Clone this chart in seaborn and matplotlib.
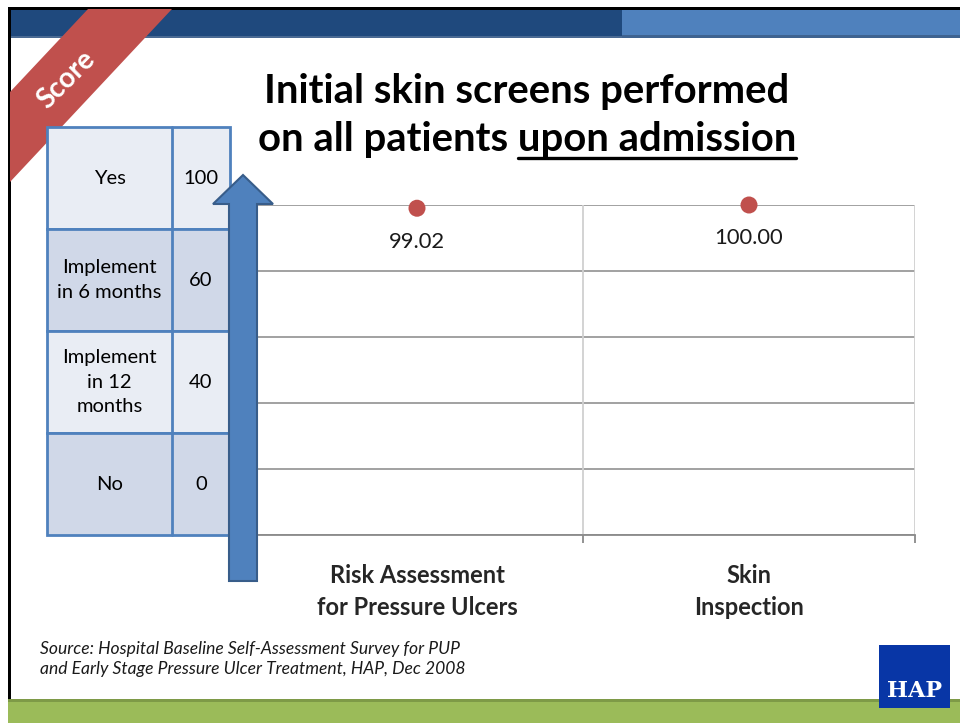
import matplotlib
matplotlib.use("Agg")
import matplotlib.pyplot as plt
import seaborn as sns
from matplotlib.patches import Rectangle, Polygon
from matplotlib.lines import Line2D

# chart values
categories = ["Risk Assessment\nfor Pressure Ulcers", "Skin\nInspection"]
scores = [99.02, 100.00]

# score legend table
score_labels = ["Yes", "Implement\nin 6 months", "Implement\nin 12\nmonths", "No"]
score_values = [100, 60, 40, 0]

title_1 = "Initial skin screens performed"
title_2 = "on all patients upon admission"
title_underlined = "upon admission"
source = ("Source: Hospital Baseline Self-Assessment Survey for PUP\n"
          "and Early Stage Pressure Ulcer Treatment, HAP, Dec 2008")

W, H = 960, 723

sns.set_theme(style="white")
plt.rcParams["font.family"] = ["Lato", "DejaVu Sans"]

fig = plt.figure(figsize=(W / 100, H / 100), dpi=100)
fig.patch.set_facecolor("white")

# slide decoration, drawn in pixel coordinates
bg = fig.add_axes([0, 0, 1, 1], zorder=0)
bg.set_xlim(0, W)
bg.set_ylim(H, 0)
bg.axis("off")

bg.add_patch(Rectangle((10, 9), 612, 27, color="#1F497D", lw=0))
bg.add_patch(Rectangle((10, 36), 612, 2, color="#4A6A93", lw=0))
bg.add_patch(Rectangle((622, 9), W - 622, 27, color="#4F81BD", lw=0))
bg.add_patch(Rectangle((622, 35), W - 622, 3, color="#3F6390", lw=0))
bg.add_patch(Rectangle((8, 7), W - 8, 2.5, color="black", lw=0))
bg.add_patch(Rectangle((8, 7), 2.5, 692, color="black", lw=0))
bg.add_patch(Rectangle((8, 700), W - 8, H - 700, color="#9BBB59", lw=0))
bg.add_patch(Rectangle((8, 699), W - 8, 2.5, color="#7E9A47", lw=0))

# red "Score" ribbon
bg.add_patch(Polygon([(88, 9), (172, 9), (10, 182), (10, 92)],
                     closed=True, color="#C0504D", lw=0))
bg.text(66, 80, "Score", color="white", fontsize=20, fontweight="bold",
        rotation=45, ha="center", va="center")

# score table
tx0, tx1, tx2 = 47, 172, 230
ty0, row_h = 127, 102
row_colors = ["#E9EDF4", "#D0D8E8"]
for i, (lab, val) in enumerate(zip(score_labels, score_values)):
    y = ty0 + i * row_h
    bg.add_patch(Rectangle((tx0, y), tx2 - tx0, row_h,
                           facecolor=row_colors[i % 2], edgecolor="#4F81BD", lw=2))
    bg.plot([tx1, tx1], [y, y + row_h], color="#4F81BD", lw=2)
    bg.text((tx0 + tx1) / 2, y + row_h / 2, lab, ha="center", va="center",
            fontsize=14.5, color="black", linespacing=1.5)
    bg.text((tx1 + tx2) / 2, y + row_h / 2, str(val), ha="center", va="center",
            fontsize=14.5, color="black")

# source note
bg.text(40, 659, source, ha="left", va="center", fontsize=12.6,
        style="italic", color="#1a1a1a", linespacing=1.35)

# HAP logo
bg.add_patch(Rectangle((879, 645), 71, 63, color="#0836A6", lw=0, zorder=5))
bg.text(915, 691, "HAP", ha="center", va="center", color="white",
        fontsize=16, fontweight="bold", family="DejaVu Serif", zorder=6)

# the chart
ax = fig.add_axes([251 / W, (H - 535) / H, (915 - 251) / W, 330 / H], zorder=1)
ax.patch.set_alpha(0)
sns.scatterplot(x=categories, y=scores, ax=ax, color="#C0504D", s=150,
                edgecolor="none", zorder=4, clip_on=False)
ax.set_xlim(-0.5, 1.5)
ax.set_ylim(0, 100)
ax.set_yticks(range(0, 101, 20))
ax.set_yticklabels([])
ax.tick_params(axis="y", length=0)
ax.grid(axis="y", color="#9a9a9a", lw=1.3)
ax.grid(axis="x", visible=False)
for xv in [0.5, 1.5]:
    ax.axvline(xv, color="#d0d0d0", lw=1.3, zorder=1)
for side in ["top", "left", "right"]:
    ax.spines[side].set_visible(False)
ax.spines["bottom"].set_color("#8a8a8a")
ax.spines["bottom"].set_linewidth(1.3)
ax.set_xticks([0, 1])
ax.set_xticklabels(categories, fontsize=17, fontweight="bold",
                   linespacing=1.45)
ax.set_xticks([-0.5, 0.5, 1.5], minor=True)
ax.tick_params(axis="x", which="major", length=0, pad=21)
ax.tick_params(axis="x", which="minor", length=6, width=1.3,
               color="#8a8a8a", bottom=True)
ax.set_xlabel("")
ax.set_ylabel("")
for i, v in enumerate(scores):
    ax.annotate(f"{v:.2f}", (i, v), xytext=(0, -24), textcoords="offset points",
                ha="center", va="center", fontsize=15.8, color="#1a1a1a")

# overlay with the blue arrow
top = fig.add_axes([0, 0, 1, 1], zorder=3)
top.set_xlim(0, W)
top.set_ylim(H, 0)
top.axis("off")
top.add_patch(Polygon([(229, 581), (229, 204), (213, 204), (243, 175),
                       (273, 204), (257, 204), (257, 581)],
                      closed=True, facecolor="#4F81BD", edgecolor="#385D8A", lw=1.5))

# title, with the underlined part
t1 = top.text(527, 92, title_1, ha="center", va="center",
              fontsize=28.8, fontweight="bold", color="black")
t2 = top.text(527, 140, title_2, ha="center", va="center",
              fontsize=28.8, fontweight="bold", color="black")
fig.canvas.draw()
r = fig.canvas.get_renderer()
full = t2.get_window_extent(r)
probe = top.text(0, 0, title_underlined, fontsize=28.8, fontweight="bold")
uw = probe.get_window_extent(r).width
probe.remove()
top.add_line(Line2D([full.x1 - uw, full.x1], [158, 158], color="black", lw=2.4))

fig.savefig("out.png", dpi=100)
